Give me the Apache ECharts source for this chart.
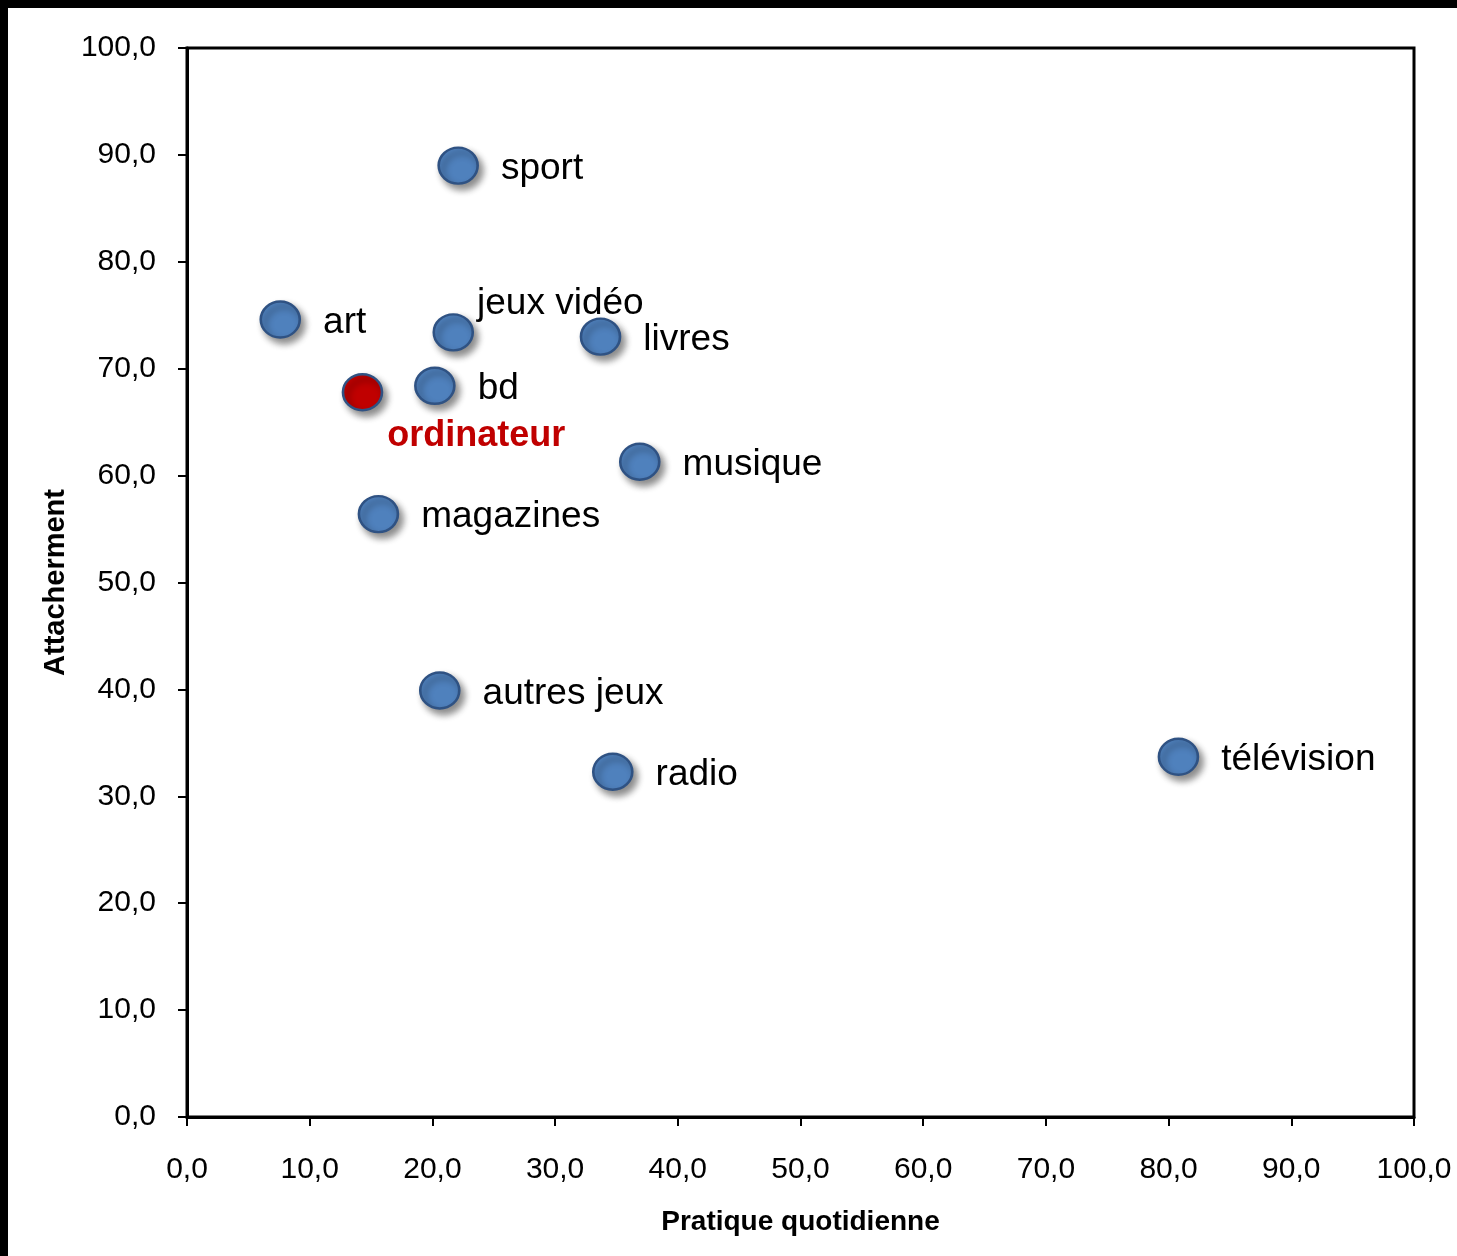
<!DOCTYPE html>
<html>
<head>
<meta charset="utf-8">
<script src="https://cdn.jsdelivr.net/npm/echarts@6/dist/echarts.min.js"></script>
<style>
html,body{margin:0;padding:0;background:#fff;}
#c{width:1457px;height:1256px;box-sizing:border-box;border-top:8px solid #000;border-left:8px solid #000;background:#fff;}
</style>
</head>
<body>
<div id="c"></div>
<script>
const categories = ['sport','art','jeux vidéo','livres','bd','ordinateur','musique','magazines','autres jeux','radio','télévision'];
const practiceValues = [22.1, 7.6, 21.7, 33.7, 20.2, 14.3, 36.9, 15.6, 20.6, 34.7, 80.8];
const attachmentValues = [89.0, 74.6, 73.4, 73.0, 68.4, 67.8, 61.3, 56.4, 39.9, 32.3, 33.7];
const xTicks = [0,10,20,30,40,50,60,70,80,90,100];
const yTicks = [0,10,20,30,40,50,60,70,80,90,100];
const highlighted = 'ordinateur';
const xAxisName = 'Pratique quotidienne';
const yAxisName = 'Attacherment';

const fmt = v => Number(v).toFixed(1).replace('.', ',');
const FONT = '"Liberation Sans", Arial, sans-serif';

const data = categories.map((name, i) => {
  const item = { name, value: [practiceValues[i], attachmentValues[i]] };
  if (name === highlighted) {
    item.itemStyle = { color: '#C00000' };
    item.label = { color: '#C00000', fontWeight: 'bold', distance: 5, offset: [-1, 44], fontSize: 36 };
  } else if (name === 'jeux vidéo') {
    item.label = { distance: 3, offset: [0, -29] };
  }
  return item;
});

const chart = echarts.init(document.getElementById('c'));
chart.setOption({
  animation: false,
  backgroundColor: '#fff',
  grid: { left: 179, top: 40, right: 43, bottom: 139, show: true, borderColor: '#000', borderWidth: 3, backgroundColor: '#fff' },
  xAxis: {
    type: 'value', min: 0, max: 100, interval: 10,
    name: xAxisName, nameLocation: 'middle', nameGap: 91,
    nameTextStyle: { fontFamily: FONT, fontWeight: 'bold', fontSize: 28, color: '#000' },
    axisLine: { show: true, lineStyle: { color: '#000', width: 3 } },
    axisTick: { show: true, inside: false, length: 9, lineStyle: { color: '#000', width: 2 } },
    splitLine: { show: false },
    axisLabel: { margin: 38, formatter: fmt, fontFamily: FONT, fontSize: 30, color: '#000' }
  },
  yAxis: {
    type: 'value', min: 0, max: 100, interval: 10,
    name: yAxisName, nameLocation: 'middle', nameGap: 117, nameRotate: 90,
    nameTextStyle: { fontFamily: FONT, fontWeight: 'bold', fontSize: 29, color: '#000' },
    axisLine: { show: true, lineStyle: { color: '#000', width: 3 } },
    axisTick: { show: true, inside: false, length: 9, lineStyle: { color: '#000', width: 2 } },
    splitLine: { show: false },
    axisLabel: { margin: 31, formatter: fmt, fontFamily: FONT, fontSize: 30, color: '#000' }
  },
  series: [{
    type: 'scatter',
    symbol: 'circle',
    symbolSize: [39, 36],
    itemStyle: {
      opacity: 1,
      color: '#4F81BD', borderColor: '#2F5283', borderWidth: 2.5,
      shadowColor: 'rgba(0,0,0,0.45)', shadowBlur: 7, shadowOffsetX: 4, shadowOffsetY: 5
    },
    label: {
      show: true, position: 'right', distance: 22, offset: [0, 3],
      formatter: p => p.name,
      fontFamily: FONT, fontSize: 37, color: '#000', opacity: 1
    },
    emphasis: { disabled: true },
    data
  }]
});
</script>
</body>
</html>
